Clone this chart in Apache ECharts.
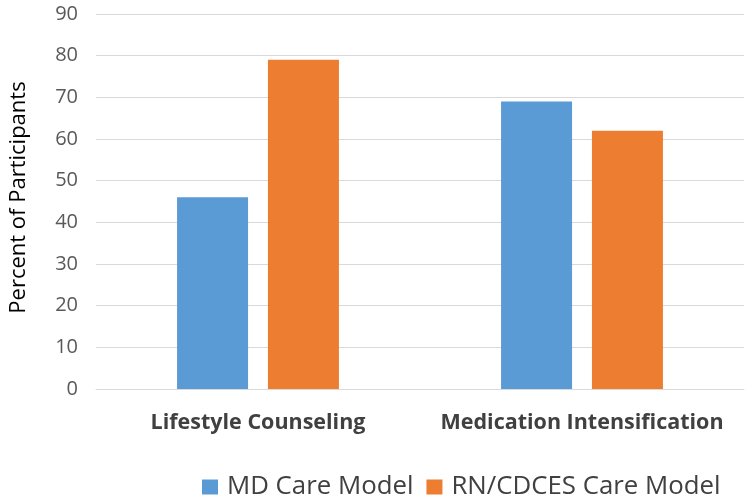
<!DOCTYPE html>
<html>
<head>
<meta charset="utf-8">
<script src="https://cdn.jsdelivr.net/npm/echarts@6/dist/echarts.min.js"></script>
<style>html,body{margin:0;padding:0;background:#fff}#c{width:754px;height:502px}</style>
</head>
<body>
<div id="c"></div>
<script>
const categories = ['Lifestyle Counseling', 'Medication Intensification'];
const mdValues = [46, 69];
const rnValues = [79, 62];
const seriesNames = ['MD Care Model', 'RN/CDCES Care Model'];
const yTicks = { min: 0, max: 90, interval: 10 };

const font = '"Open Sans", "Noto Sans", sans-serif';
const chart = echarts.init(document.getElementById('c'), null, { renderer: 'canvas' });
chart.setOption({
  animation: false,
  backgroundColor: '#fff',
  color: ['#5B9BD5', '#ED7D31'],
  grid: { left: 94, right: 10, top: 14, bottom: 113 },
  legend: {
    data: seriesNames,
    left: 202, top: 474, padding: 0,
    itemWidth: 16, itemHeight: 15, itemGap: 13,
    icon: 'rect',
    textStyle: { fontFamily: font, fontSize: 25.8, lineHeight: 26, color: '#404040', padding: [0, 0, 0, 4] }
  },
  xAxis: {
    type: 'category',
    data: categories,
    axisLine: { show: true, lineStyle: { color: '#D9D9D9', width: 1 } },
    axisTick: { show: false },
    axisLabel: { interval: 0, fontFamily: font, fontSize: 21.5, fontWeight: 'bold', color: '#404040', margin: 23 }
  },
  yAxis: {
    type: 'value',
    min: yTicks.min, max: yTicks.max, interval: yTicks.interval,
    name: 'Percent of Participants',
    nameLocation: 'middle',
    nameGap: 66,
    nameTextStyle: { fontFamily: font, fontSize: 22, color: '#000', padding: [0, 0, 0, 8] },
    axisLine: { show: false },
    axisTick: { show: false },
    axisLabel: { fontFamily: font, fontSize: 20, color: '#595959', margin: 18 },
    splitLine: { lineStyle: { color: '#D9D9D9', width: 1 } }
  },
  series: [
    { name: seriesNames[0], type: 'bar', data: mdValues, barWidth: 71, barGap: '28%' },
    { name: seriesNames[1], type: 'bar', data: rnValues, barWidth: 71, barGap: '28%' }
  ]
});
</script>
</body>
</html>
